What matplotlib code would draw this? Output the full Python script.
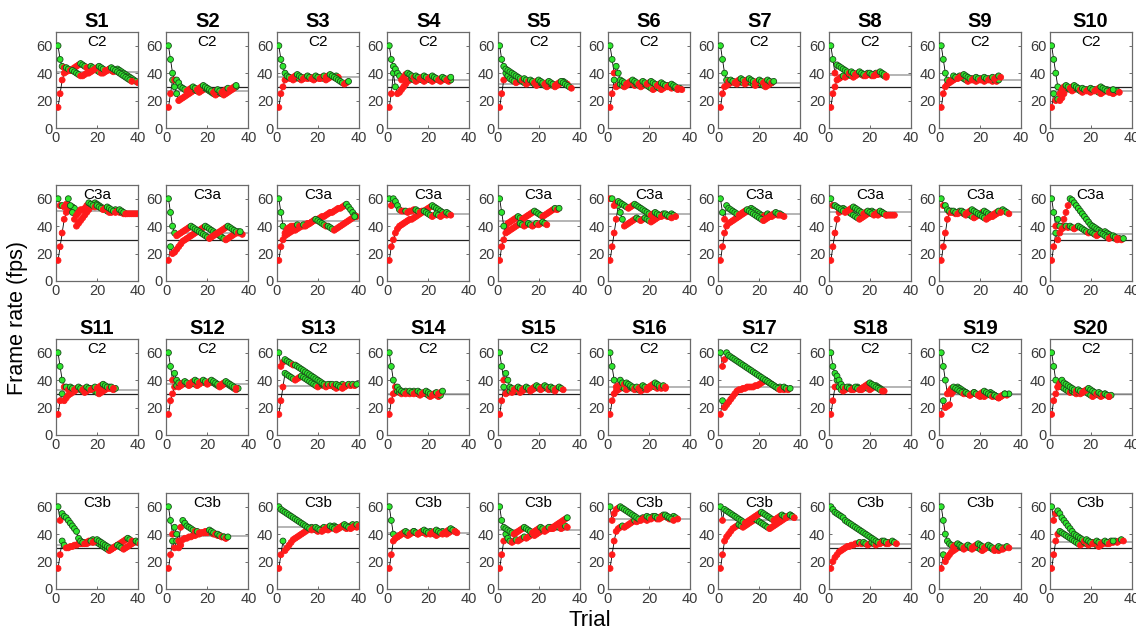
import matplotlib
matplotlib.use("Agg")
import matplotlib.pyplot as plt

plt.rcParams['font.family'] = ['Liberation Sans', 'DejaVu Sans']

# ---------------- data: staircases (frame rate per trial) ----------------
# Row 1 : S1-S10, condition C2
S1_C2_UP = [60,50,45,44,44,43,42,42,41,40,39,38,38,39,40,40,41,42,43,44,45,44,43,42,42,43,44,43,42,41,40,39,38,37,36,35,34]
S1_C2_LO = [15,25,35,40,41,42,42,43,44,45,46,47,46,45,44,44,45,44,43,42,41,40,40,41,42,43,42,41,42,43,42,41,40,39,38,37,36,35,34,33]
S2_C2_UP = [60,50,40,35,35,33,30,29,28,27,28,29,30,29,28,29,30,31,30,29,28,27,26,27,28,27,26,27,28,29,28,29,30,31]
S2_C2_LO = [15,25,35,30,25,20,21,22,23,24,25,26,27,28,27,26,27,28,29,28,27,26,25,24,25,26,25,24,25,26,27,28,29,30]
S3_C2_UP = [60,50,45,40,38,37,36,37,38,39,38,37,36,37,38,37,36,37,38,37,36,37,38,37,38,39,38,37,36,35,34,33,32,33,34]
S3_C2_LO = [15,25,30,35,36,37,36,35,36,37,36,35,36,37,36,37,36,35,36,37,36,37,36,35,36,37,38,37,38,37]
S4_C2_UP = [60,50,45,43,40,38,35,37,39,40,39,38,37,38,37,36,37,38,37,36,37,38,37,36,35,36,37,36,35,36,37]
S4_C2_LO = [15,25,40,30,25,26,28,30,32,34,35,36,35,34,35,36,35,34,35,36,35,34,35,36,35,34,35,36,35,34,35]
S5_C2_UP = [60,50,45,43,42,41,40,39,38,37,36,35,36,35,34,35,34,33,34,35,34,33,32,33,34,33,32,31,32,33,34,33,32,31,30,29]
S5_C2_LO = [15,25,35,40,38,36,35,34,33,34,35,34,33,32,33,34,33,32,31,32,33,32,31,30,31,32,31,30,31,32,33,34,33,32]
S6_C2_UP = [60,50,40,45,40,35,34,33,32,33,34,35,34,33,32,33,34,33,32,33,34,33,32,31,32,33,32,31,30,31,32,31,30,29]
S6_C2_LO = [15,25,35,30,31,32,31,30,31,32,33,32,31,32,31,30,31,32,31,30,29,28,29,30,29,28,29,30,31,30,29,30,29,28,29,28]
S7_C2_UP = [60,50,40,35,34,35,34,33,34,35,36,35,34,35,36,35,34,33,34,35,34,33,34,35,34,33,34]
S7_C2_LO = [15,25,30,31,32,33,34,33,32,33,34,33,32,33,34,33,32,31,32,33,32,31,30,31,32,33]
S8_C2_UP = [60,50,40,46,45,44,43,42,41,40,41,40,39,40,41,40,39,38,39,40,39,38,39,40,41,40,39,38]
S8_C2_LO = [15,25,30,35,36,37,38,37,38,39,38,37,38,39,40,39,38,39,40,39,38,39,40,39,40,39,38,37]
S9_C2_UP = [60,50,40,35,34,35,38,37,36,37,38,39,38,37,36,35,36,37,36,35,36,37,36,35,36,37,36,37,38,37]
S9_C2_LO = [15,25,30,32,33,34,35,36,37,38,37,36,35,34,35,36,35,34,35,36,35,34,35,36,35,34,35,34,35]
S10_C2_UP = [60,50,40,30,25,28,30,31,30,29,30,31,30,29,28,29,28,27,28,29,28,27,28,29,30,29,28,27,26,27,28]
S10_C2_LO = [15,25,20,21,20,22,25,28,29,28,27,28,29,28,27,26,27,28,27,26,27,28,27,26,25,26,27,28,27,26,25,26,27,26]

# Row 2 : S1-S10, condition C3a
S1_C3A_UP = [60,55,55,54,56,60,55,50,45,48,50,52,52,53,55,57,56,55,54,55,54,53,52,53,54,53,52,51,50,51,52,51,50,49]
S1_C3A_LO = [15,25,35,45,50,53,54,54,53,40,42,44,46,48,50,52,54,56,57,56,55,54,53,52,51,50,50,51,52,51,50,50,49,49,49,49,49,49,49,49]
S2_C3A_UP = [60,50,40,35,33,34,35,36,37,38,39,40,39,38,37,36,35,34,33,32,31,32,33,34,35,36,37,38,39,40,39,38,37,36,35,36]
S2_C3A_LO = [15,25,20,21,23,25,27,29,30,31,32,33,34,35,36,37,38,39,40,39,38,37,36,35,34,33,32,31,30,31,32,33,34,35,36,35,34]
S3_C3A_UP = [60,50,40,35,38,39,40,40,40,41,40,40,41,40,41,42,43,44,45,44,43,42,41,40,40,39,38,37,38,39,40,41,42,43,44,45,46,47]
S3_C3A_LO = [15,25,30,33,34,35,36,37,37,38,39,40,40,41,42,42,43,44,45,45,46,47,47,48,49,50,50,51,52,53,53,54,55,56,54,52,50,48,47]
S4_C3A_UP = [60,55,60,58,55,52,51,51,51,50,51,51,52,52,51,50,51,51,50,49,48,47,48,49,48,47,48,49,50,49,48]
S4_C3A_LO = [15,25,30,35,38,40,41,42,43,44,45,45,46,47,48,49,50,51,52,53,54,55,54,53,52,51,50,49,48]
S5_C3A_UP = [60,50,40,35,36,37,38,39,40,41,42,41,40,41,42,41,40,41,42,41,42,43,42,41]
S5_C3A_LO = [15,25,30,40,42,43,44,45,46,47,46,45,46,47,48,49,50,51,50,49,48,47,48,49,50,51,52,53,52,53]
S6_C3A_UP = [60,60,55,57,58,57,56,55,54,53,54,55,56,55,54,53,52,51,50,49,48,49,50,49,48,47,48,49,48,47,46]
S6_C3A_LO = [15,25,35,45,55,50,45,40,41,42,43,44,45,46,45,44,45,46,45,44,43,44,45,46,47,48,49,48,47,48,49,48,47]
S7_C3A_UP = [60,50,45,55,53,52,51,50,49,48,49,50,51,52,51,50,49,48,47,46,45,44,45,46,47,48,49,50,49,48]
S7_C3A_LO = [15,25,35,40,42,43,44,45,46,47,48,49,50,51,52,53,52,51,50,49,48,47,48,49,48,47,48,49,48,49,48,47]
S8_C3A_UP = [60,55,55,54,53,52,51,50,51,52,53,54,53,52,51,50,49,50,51,50,49,48,49,50,51,50,49,48]
S8_C3A_LO = [15,25,35,45,50,52,53,52,51,50,49,48,47,46,45,46,47,48,49,50,51,50,49,48,49,50,49,48,48,48,48,48]
S9_C3A_UP = [60,55,55,52,51,50,51,50,49,50,51,50,49,50,51,52,51,50,49,48,47,46,45,46,47,48,49,50,51,50]
S9_C3A_LO = [15,25,35,45,50,51,50,49,50,51,50,49,48,49,48,47,46,47,48,49,50,51,50,49,48,47,48,49,50,51,52,51,50,49]
S10_C3A_UP = [60,50,40,45,40,38,39,40,39,40,39,38,39,40,39,38,37,36,35,36,35,34,33,34,35,34,33,32,31,32,33,32,31]
S10_C3A_LO = [15,25,35,30,35,40,45,50,55,60,59,57,55,53,51,49,47,45,43,41,40,39,38,37,36,35,36,35,34,33,32,31,30,31,30,31]

# Row 3 : S11-S20, condition C2
S11_C2_UP = [60,50,40,35,35,33,35,34,33,34,35,34,33,34,35,34,33,34,35,34,35,36,37,36,35,34,35,34]
S11_C2_LO = [15,25,30,25,27,29,30,31,32,33,34,33,32,31,32,33,34,33,32,31,30,31,32,33,34,35,34,33,34]
S12_C2_UP = [60,50,40,45,40,38,37,38,39,38,37,38,39,40,39,38,39,40,39,38,39,40,39,38,37,36,37,38,39,38,37,36,35,34]
S12_C2_LO = [15,25,30,35,36,35,36,37,38,37,36,37,38,37,36,37,38,39,38,37,38,39,38,37,36,35,36,37,38,37,36,35,34,33,34]
S13_C2_UP = [60,50,53,55,54,53,52,51,51,50,49,48,47,46,45,44,43,42,41,40,39,38,37,36,37,36,37,36,37,36,35,34,35,36,37,36,37,36,37]
S13_C2_LO = [15,25,35,45,44,43,42,41,40,41,42,43,42,41,40,39,38,37,36,35,36,37,36,35,36,37,36,35,34,35,36,37,36]
S14_C2_UP = [60,50,40,35,35,33,32,31,30,31,32,31,30,31,32,31,30,31,32,31,30,29,30,31,30,31,32]
S14_C2_LO = [15,25,30,31,32,31,30,31,32,31,30,31,32,31,30,29,30,31,30,29,28,29,30,29,28,29]
S15_C2_UP = [60,50,40,45,40,35,34,33,34,35,34,33,34,35,34,33,34,35,36,35,34,35,36,35,34,35,34,33,34,35,34,33]
S15_C2_LO = [15,25,35,30,31,32,31,32,33,32,31,32,33,34,33,32,33,34,35,34,33,34,35,34,33,34,33,32]
S16_C2_UP = [60,50,40,35,36,40,38,37,38,37,36,35,34,35,34,35,36,35,34,35,36,37,38,37,36,35,36,35]
S16_C2_LO = [15,25,30,32,33,34,35,34,33,34,35,34,33,34,33,32,33,34,33,34,35,36,35,34,35,34,35,34]
S17_C2_UP = [60,50,55,60,58,57,56,55,54,53,52,51,50,49,48,47,46,45,44,43,42,41,40,39,38,37,36,35,34,33,34,35,34,33,34]
S17_C2_LO = [15,25,20,22,24,26,28,30,32,33,33,34,34,35,35,35,35,36,36,37,38,39,40,39,38,37,36,35,34,35,34,33,34]
S18_C2_UP = [60,50,45,43,40,37,35,34,35,34,33,34,35,34,33,34,35,36,37,38,37,36,35,34,33,32]
S18_C2_LO = [15,25,35,40,35,33,32,33,34,35,34,33,34,35,34,33,34,35,34,33,34,35,36,35,34,33,32]
S19_C2_UP = [60,50,40,30,32,34,35,34,33,32,31,30,31,30,29,30,31,30,29,30,31,32,31,30,29,28,29,28,27,28,29,30]
S19_C2_LO = [15,25,20,21,22,30,32,34,35,34,33,32,31,30,29,30,31,30,29,28,29,28,29,30,31,30,29,28,27,28,29,30,29,30]
S20_C2_UP = [60,50,40,35,38,40,38,37,36,35,34,33,32,33,32,31,32,33,34,33,32,31,30,31,30,29,30,29,28]
S20_C2_LO = [15,25,30,35,36,35,34,33,32,31,32,31,30,31,30,31,32,31,30,29,28,29,30,29,28,29,30,29,28,29]

# Row 4 : S11-S20, condition C3b
S11_C3B_UP = [60,50,55,53,52,50,48,46,44,42,37,35,34,33,33,34,35,34,35,36,35,34,33,32,31,30,29,30,31,32,31,30,29,30,31,32,33,34,35,34,33]
S11_C3B_LO = [15,25,35,32,30,30,31,31,32,32,33,33,33,34,34,35,35,36,35,34,33,32,31,30,29,28,29,30,31,32,33,34,35,36,37,36,35]
S12_C3B_UP = [60,50,40,45,40,35,45,50,48,46,45,44,43,42,42,41,41,41,42,42,43,42,41,40,40,39,38,38,37,38]
S12_C3B_LO = [15,25,35,30,35,30,32,36,37,37,38,38,39,39,40,40,41,41,41,41,42,41,40,40,39,39,38,38,37]
S13_C3B_UP = [60,58,57,56,55,54,53,52,51,50,49,48,47,46,45,44,43,44,45,44,43,42,43,44,45,46,45,44,43,44,45,46,47,46,45,44,45,46,47,46]
S13_C3B_LO = [15,25,35,28,30,32,34,36,37,38,39,40,41,42,43,44,45,44,43,42,43,44,45,44,43,44,45,46,45,44,45,46,45,44,45,46,47,46,45]
S14_C3B_UP = [60,50,40,37,38,39,40,41,42,41,40,41,42,41,40,41,42,43,42,41,40,41,42,43,42,41,40,41,42,43,44,43,42]
S14_C3B_LO = [15,25,35,37,38,39,40,41,40,39,40,41,42,41,40,41,42,41,40,41,42,41,40,39,40,41,42,41,40,41,42,43,42,41]
S15_C3B_UP = [60,50,45,44,43,42,41,40,41,42,43,44,45,44,43,42,41,42,43,44,45,44,43,44,45,44,45,46,47,48,49,50,51,52]
S15_C3B_LO = [15,25,35,40,37,35,34,35,36,35,36,37,38,37,38,39,40,39,40,41,42,43,42,43,44,45,44,45,46,45,44,45,46,45]
S16_C3B_UP = [60,50,55,58,59,60,59,58,57,56,55,54,53,52,51,50,51,52,53,52,51,52,53,52,51,52,53,54,53,52,51,50]
S16_C3B_LO = [15,25,35,42,44,45,46,45,46,47,48,49,50,49,50,51,52,51,50,51,52,53,52,51,52,53,54,53,52,51,52,53,52,51]
S17_C3B_UP = [60,50,58,57,56,55,54,53,52,51,50,49,48,49,50,51,52,53,54,55,56,55,54,53,52,51,50,51,52,53,54,53,52,53,54,53,52]
S17_C3B_LO = [15,25,35,38,40,42,44,45,46,47,46,45,46,47,48,49,50,51,50,49,48,47,46,45,44,45,46,47,48,49,50,51,52,53,54,53]
S18_C3B_UP = [60,58,56,55,54,53,52,50,49,48,47,46,45,44,43,42,41,40,39,38,37,36,35,34,33,34,35,34,33,34,35,34,33]
S18_C3B_LO = [15,20,23,25,27,28,29,30,31,31,32,32,33,33,34,33,34,33,32,33,34,33,32,33,34,35,34,33,34]
S19_C3B_UP = [60,50,40,35,33,32,31,32,33,32,31,30,31,32,31,30,31,32,33,32,31,30,31,32,31,30,29,30,31,30,29,30,31,30]
S19_C3B_LO = [15,25,20,23,25,27,28,29,30,31,30,29,30,31,30,29,30,31,30,29,28,29,30,31,30,29,28,29,28,29,30]
S20_C3B_UP = [60,50,55,57,55,52,50,48,46,44,42,40,39,38,37,36,35,36,35,34,33,34,35,34,33,34,35,34,33,34,35]
S20_C3B_LO = [15,25,35,40,42,41,40,39,38,37,36,35,34,33,32,33,34,33,32,33,34,33,32,31,32,33,34,33,34,35,34,35,34,35,36,35]

# threshold (grey reference line) per panel, by row
GREY_ROW1 = [41, 27, 37, 35, 32, 31, 33, 39, 35, 27]
GREY_ROW2 = [51, 35, 44, 49, 44, 49, 49, 50, 50, 34]
GREY_ROW3 = [33, 37, 36, 30, 33, 35, 35, 35, 30, 30]
GREY_ROW4 = [32, 39, 45, 41, 43, 51, 50, 33, 30, 34]
REFERENCE_FPS = 30

SUBJECT_TITLES_TOP = ['S1', 'S2', 'S3', 'S4', 'S5', 'S6', 'S7', 'S8', 'S9', 'S10']
SUBJECT_TITLES_BOTTOM = ['S11', 'S12', 'S13', 'S14', 'S15', 'S16', 'S17', 'S18', 'S19', 'S20']
ROW_CONDITIONS = ['C2', 'C3a', 'C2', 'C3b']
Y_TICKS = [0, 20, 40, 60]
X_TICKS = [0, 20, 40]

ROWS = [
    [(S1_C2_UP, S1_C2_LO), (S2_C2_UP, S2_C2_LO), (S3_C2_UP, S3_C2_LO), (S4_C2_UP, S4_C2_LO),
     (S5_C2_UP, S5_C2_LO), (S6_C2_UP, S6_C2_LO), (S7_C2_UP, S7_C2_LO), (S8_C2_UP, S8_C2_LO),
     (S9_C2_UP, S9_C2_LO), (S10_C2_UP, S10_C2_LO)],
    [(S1_C3A_UP, S1_C3A_LO), (S2_C3A_UP, S2_C3A_LO), (S3_C3A_UP, S3_C3A_LO), (S4_C3A_UP, S4_C3A_LO),
     (S5_C3A_UP, S5_C3A_LO), (S6_C3A_UP, S6_C3A_LO), (S7_C3A_UP, S7_C3A_LO), (S8_C3A_UP, S8_C3A_LO),
     (S9_C3A_UP, S9_C3A_LO), (S10_C3A_UP, S10_C3A_LO)],
    [(S11_C2_UP, S11_C2_LO), (S12_C2_UP, S12_C2_LO), (S13_C2_UP, S13_C2_LO), (S14_C2_UP, S14_C2_LO),
     (S15_C2_UP, S15_C2_LO), (S16_C2_UP, S16_C2_LO), (S17_C2_UP, S17_C2_LO), (S18_C2_UP, S18_C2_LO),
     (S19_C2_UP, S19_C2_LO), (S20_C2_UP, S20_C2_LO)],
    [(S11_C3B_UP, S11_C3B_LO), (S12_C3B_UP, S12_C3B_LO), (S13_C3B_UP, S13_C3B_LO), (S14_C3B_UP, S14_C3B_LO),
     (S15_C3B_UP, S15_C3B_LO), (S16_C3B_UP, S16_C3B_LO), (S17_C3B_UP, S17_C3B_LO), (S18_C3B_UP, S18_C3B_LO),
     (S19_C3B_UP, S19_C3B_LO), (S20_C3B_UP, S20_C3B_LO)],
]
GREYS = [GREY_ROW1, GREY_ROW2, GREY_ROW3, GREY_ROW4]
TITLES = [SUBJECT_TITLES_TOP, None, SUBJECT_TITLES_BOTTOM, None]

GREEN = '#2ee62e'
RED = '#ff1a1a'


def response_colors(vals):
    """Red = next value goes up (or stays), green = next value goes down."""
    cols = []
    n = len(vals)
    for i in range(n):
        if i < n - 1:
            cols.append(RED if vals[i + 1] >= vals[i] else GREEN)
        else:
            cols.append(RED if vals[i] <= vals[i - 1] else GREEN)
    return cols


def draw_staircase(ax, vals):
    x = list(range(1, len(vals) + 1))
    ax.plot(x, vals, color='black', lw=0.6, zorder=2)
    cols = response_colors(vals)
    edges = ['#1a4d1a' if c == GREEN else RED for c in cols]
    ax.scatter(x, vals, s=18, c=cols, edgecolors=edges, linewidths=0.6, zorder=3)


W, H = 1136, 635
fig = plt.figure(figsize=(W / 100, H / 100), dpi=100)

col_left0, col_step, ax_w = 56, 110.4, 82
row_tops = [32, 185, 339, 493]
ax_h = 96

for r in range(4):
    for c in range(10):
        left = col_left0 + col_step * c
        top = row_tops[r]
        ax = fig.add_axes([left / W, (H - top - ax_h) / H, ax_w / W, ax_h / H])
        up, lo = ROWS[r][c]
        ax.axhline(REFERENCE_FPS, color='#222222', lw=0.9, zorder=1)
        ax.axhline(GREYS[r][c], color='#a0a0a0', lw=1.1, zorder=1)
        draw_staircase(ax, lo)
        draw_staircase(ax, up)
        ax.set_xlim(0, 40)
        ax.set_ylim(0, 70)
        ax.set_xticks(X_TICKS)
        ax.set_yticks(Y_TICKS)
        ax.tick_params(direction='in', length=2.5, width=0.6, colors='#555555',
                       labelcolor='#3a3a3a', labelsize=10.5, pad=2.5,
                       top=False, right=True)
        for sp in ax.spines.values():
            sp.set_color('#6a6a6a')
            sp.set_linewidth(0.9)
        ax.text(0.5, 0.97, ROW_CONDITIONS[r], transform=ax.transAxes,
                ha='center', va='top', fontsize=11, color='black')
        if TITLES[r] is not None:
            ax.set_title(TITLES[r][c], fontsize=14.5, fontweight='bold', pad=3.5)

fig.text(18 / W, 1 - 318 / H, 'Frame rate (fps)', rotation=90, ha='center', va='center',
         fontsize=15.5)
fig.text(590 / W, 1 - 620 / H, 'Trial', ha='center', va='center', fontsize=16)

fig.savefig('out.png', dpi=100)
